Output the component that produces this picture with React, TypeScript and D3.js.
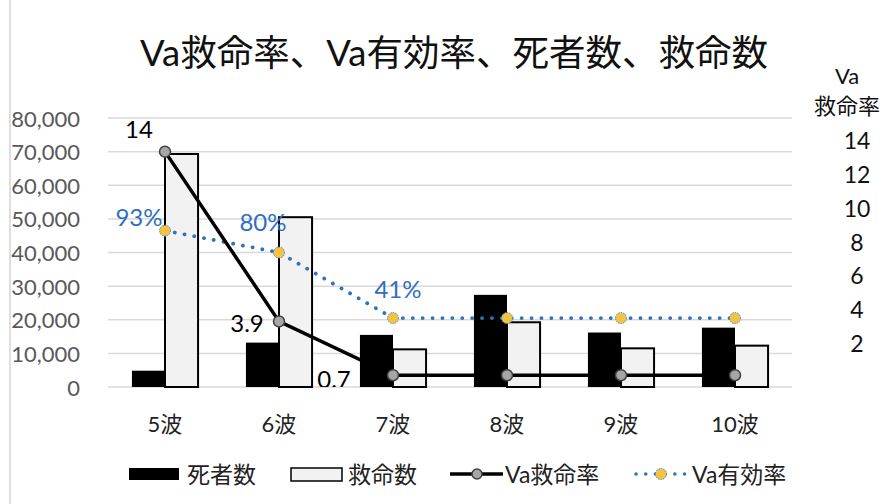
import * as d3 from "d3";

// chart values
const waves = ["5波", "6波", "7波", "8波", "9波", "10波"];
const deaths = [4850, 13200, 15500, 27400, 16200, 17650];
const saved = [69300, 50500, 11200, 19250, 11500, 12300];
const vaSaveRate = [14, 3.9, 0.7, 0.7, 0.7, 0.7];
const vaEffective = [93, 80, 41, 41, 41, 41]; // percent, drawn as pct/10 on the right scale
const leftTicks = [0, 10000, 20000, 30000, 40000, 50000, 60000, 70000, 80000];
const rightTicks = [2, 4, 6, 8, 10, 12, 14];
const saveRateLabels = ["14", "3.9", "0.7"];
const effLabels = ["93%", "80%", "41%"];

const W = 890;
const H = 504;
const plot = { left: 108, right: 792, top: 118, bottom: 387 };
const FONT = "Lato, 'Noto Sans CJK JP', sans-serif";
const BLUE = "#2e75b6";
const BLUE_TXT = "#2f6fc0";

// label offsets from their points (px)
const rateOffsets = [[-26, -23], [-32, 1], [-59, 3]];
const effOffsets = [[-26, -14], [-16, -31], [5, -30]];

export default function App() {
  const x = d3.scaleBand().domain(waves).range([plot.left, plot.right]);
  const yL = d3.scaleLinear().domain([0, 80000]).range([plot.bottom, plot.top]);
  const yR = d3.scaleLinear().domain([0, 16]).range([plot.bottom, plot.top]);
  // the right labels in the picture are not on the gridlines
  const yRLabel = d3.scaleLinear().domain([2, 14]).range([343, 140]);
  const bw = x.bandwidth() * 0.29;
  const cx = (w: string) => (x(w) ?? 0) + x.bandwidth() / 2;
  const fmt = d3.format(",");

  const rateLine = d3
    .line<number>()
    .x((_, i) => cx(waves[i]))
    .y((d) => yR(d));
  const effLine = d3
    .line<number>()
    .x((_, i) => cx(waves[i]))
    .y((d) => yR(d / 10));

  return (
    <svg
      width={W}
      height={H}
      style={{ position: "absolute", left: 0, top: 0, background: "#fff" }}
      fontFamily={FONT}
    >
      <defs>
        <clipPath id="plotClip">
          <rect x={0} y={0} width={W} height={plot.bottom} />
        </clipPath>
      </defs>
      <line x1={10} x2={10} y1={0} y2={H} stroke="#d4d4d4" strokeWidth={1.5} />

      <text x={454} y={52} fontSize={36.5} textAnchor="middle" dominantBaseline="central" fill="#111">
        Va救命率、Va有効率、死者数、救命数
      </text>

      {/* gridlines + left axis */}
      {leftTicks.map((t) => (
        <g key={t}>
          <line x1={plot.left} x2={plot.right} y1={yL(t)} y2={yL(t)} stroke="#d9d9d9" strokeWidth={1.5} />
          <text x={80} y={yL(t)} fontSize={22} fill="#595959" textAnchor="end" dominantBaseline="central">
            {fmt(t)}
          </text>
        </g>
      ))}

      {/* right axis */}
      <text x={847} y={75} fontSize={22} textAnchor="middle" dominantBaseline="central" fill="#111">Va</text>
      <text x={847} y={105} fontSize={22} textAnchor="middle" dominantBaseline="central" fill="#111">救命率</text>
      {rightTicks.map((t) => (
        <text key={t} x={857} y={yRLabel(t)} fontSize={23} textAnchor="middle" dominantBaseline="central" fill="#111">
          {t}
        </text>
      ))}

      {/* bars */}
      {waves.map((w, i) => (
        <g key={w}>
          <rect x={cx(w) - bw} y={yL(deaths[i])} width={bw} height={plot.bottom - yL(deaths[i])} fill="#000" />
          <rect
            x={cx(w)}
            y={yL(saved[i])}
            width={bw}
            height={plot.bottom - yL(saved[i])}
            fill="#f2f2f2"
            stroke="#000"
            strokeWidth={2}
          />
        </g>
      ))}

      {/* x labels */}
      {waves.map((w) => (
        <text key={w} x={cx(w)} y={423} fontSize={22} textAnchor="middle" dominantBaseline="central" fill="#222">
          {w}
        </text>
      ))}

      {/* Va有効率 */}
      <path
        d={effLine(vaEffective) ?? ""}
        fill="none"
        stroke={BLUE}
        strokeWidth={3.8}
        strokeDasharray="0.1 9.8"
        strokeLinecap="round"
      />
      {vaEffective.map((v, i) => (
        <circle
          key={i}
          cx={cx(waves[i])}
          cy={yR(v / 10)}
          r={5.5}
          fill="#f5c342"
          stroke="#4a86d0"
          strokeWidth={1}
          strokeDasharray="1.5 1"
        />
      ))}

      {/* Va救命率 */}
      <path d={rateLine(vaSaveRate) ?? ""} fill="none" stroke="#000" strokeWidth={3.5} />
      {vaSaveRate.map((v, i) => (
        <circle key={i} cx={cx(waves[i])} cy={yR(v)} r={5.5} fill="#a6a6a6" stroke="#404040" strokeWidth={1.5} />
      ))}

      {/* data labels */}
      <g clipPath="url(#plotClip)">
        {saveRateLabels.map((s, i) => (
          <text
            key={s}
            x={cx(waves[i]) + rateOffsets[i][0]}
            y={yR(vaSaveRate[i]) + rateOffsets[i][1]}
            fontSize={24}
            textAnchor="middle"
            dominantBaseline="central"
            fill="#000"
          >
            {s}
          </text>
        ))}
        {effLabels.map((s, i) => (
          <text
            key={s}
            x={cx(waves[i]) + effOffsets[i][0]}
            y={yR(vaEffective[i] / 10) + effOffsets[i][1]}
            fontSize={24}
            textAnchor="middle"
            dominantBaseline="central"
            fill={BLUE_TXT}
          >
            {s}
          </text>
        ))}
      </g>

      {/* legend */}
      <g fontSize={23} fill="#222">
        <rect x={129} y={468} width={50} height={12} fill="#000" />
        <text x={187} y={474} dominantBaseline="central">死者数</text>
        <rect x={291} y={468} width={51} height={13} fill="#f2f2f2" stroke="#000" strokeWidth={1.5} />
        <text x={348} y={474} dominantBaseline="central">救命数</text>
        <line x1={450} x2={503} y1={474} y2={474} stroke="#000" strokeWidth={3.5} />
        <circle cx={477} cy={474} r={5} fill="#a6a6a6" stroke="#404040" strokeWidth={1.5} />
        <text x={505} y={474} dominantBaseline="central">Va救命率</text>
        <line
          x1={636}
          x2={688}
          y1={474}
          y2={474}
          stroke={BLUE}
          strokeWidth={3.5}
          strokeDasharray="0.1 9.6"
          strokeLinecap="round"
        />
        <circle cx={661} cy={474} r={5.5} fill="#f5c342" stroke="#4a86d0" strokeWidth={1} strokeDasharray="1.5 1" />
        <text x={692} y={474} dominantBaseline="central">Va有効率</text>
      </g>
    </svg>
  );
}
